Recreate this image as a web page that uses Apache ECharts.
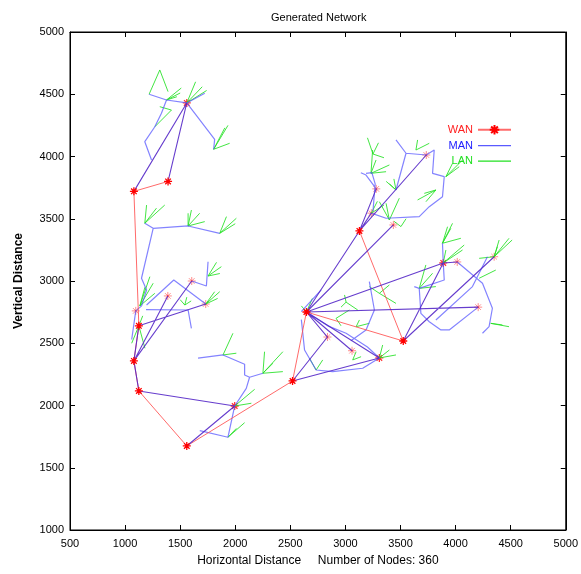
<!DOCTYPE html>
<html>
<head>
<meta charset="utf-8">
<script src="https://cdn.jsdelivr.net/npm/echarts@6/dist/echarts.min.js"></script>
<style>
html, body { margin: 0; padding: 0; background: #fff; }
#main { width: 581px; height: 574px; }
</style>
</head>
<body>
<div id="main"></div>
<script>
// axis ranges
var xRange = [500, 5000];
var yRange = [1000, 5000];
var tickStep = 500;
var nodeCount = 360;

// WAN nodes: id, x, y
var wanNodes = [
    ['A', 1560, 4430], ['B', 1080, 3720], ['C', 1390, 3800], ['D', 1097, 2760],
    ['E', 1125, 2640], ['F', 1388, 2880], ['G', 1605, 3000], ['H', 1732, 2815],
    ['I', 1080, 2358], ['J', 1125, 2117], ['K', 1995, 1996], ['L', 1560, 1675],
    ['M', 2520, 2197], ['N', 2646, 2751], ['O', 2837, 2550], ['P', 3060, 2440],
    ['Q', 3308, 2382], ['R', 3525, 2518], ['S', 3127, 3402], ['T', 3235, 3545],
    ['U', 3280, 3740], ['V', 3435, 3450], ['W', 3734, 4012], ['X', 3888, 3145],
    ['Y', 4015, 3153], ['Z', 4205, 2790], ['AA', 4350, 3195]
];
// backbone routers (bold stars), the others are MAN gateways
var majorIds = ['A', 'B', 'C', 'E', 'I', 'J', 'K', 'L', 'M', 'N', 'Q', 'R', 'S', 'X'];
// red WAN chain
var wanPath = ['C', 'B', 'E', 'I', 'J', 'L', 'M', 'N', 'R', 'S'];
// WAN links that MAN also uses (purple)
var trunkEdges = [
    ['A', 'B'], ['A', 'C'], ['I', 'F'], ['I', 'G'], ['E', 'H'], ['E', 'I'], ['J', 'I'],
    ['J', 'K'], ['K', 'L'], ['M', 'O'], ['M', 'Q'], ['N', 'O'], ['N', 'P'], ['N', 'Q'],
    ['N', 'S'], ['N', 'V'], ['S', 'T'], ['S', 'U'], ['S', 'W'], ['N', 'X'], ['X', 'Y'],
    ['N', 'Z'], ['R', 'X'], ['R', 'AA']
];

// MAN polylines
var manPaths = [
    [[1218, 4500], [1376, 4454], [1560, 4430]],
    [[1376, 4454], [1330, 4347], [1270, 4239], [1179, 4119], [1240, 3972]],
    [[1560, 4430], [1813, 4138], [1804, 4058]],
    [[1560, 4430], [1723, 4508]],
    [[1179, 3464], [1255, 3423], [1572, 3442], [1859, 3383]],
    [[1255, 3423], [1149, 3022], [1195, 2928], [1150, 2800], [1097, 2760]],
    [[1097, 2760], [1060, 2530]],
    [[1195, 2807], [1442, 3008], [1732, 2815]],
    [[1605, 3000], [1738, 2960], [1753, 3155]],
    [[1190, 2770], [1572, 2767], [1602, 2620]],
    [[1662, 2380], [1889, 2406], [2085, 2331], [2085, 2245], [2130, 2227], [2251, 2259]],
    [[2130, 2227], [2100, 2138], [1995, 1996], [1934, 1745], [1678, 1798]],
    [[2599, 2754], [2780, 2928]],
    [[2646, 2751], [2840, 2640], [3006, 2580], [3200, 2470], [3308, 2382]],
    [[2600, 2690], [2629, 2446], [2734, 2285], [2884, 2272], [3157, 2299], [3308, 2382]],
    [[3217, 2995], [3263, 2767], [3187, 2606], [3050, 2520]],
    [[3459, 4133], [3550, 4026], [3734, 4012], [3806, 4052], [3791, 3865], [3897, 3838],
     [3881, 3677], [3761, 3597], [3670, 3517], [3369, 3504], [3235, 3545]],
    [[3550, 4026], [3459, 3731]],
    [[3140, 3870], [3187, 3851], [3280, 3740]],
    [[3881, 3303], [3888, 3145], [3897, 3008], [3670, 2941], [3625, 2955]],
    [[3670, 2941], [3685, 2740], [3761, 2673], [3867, 2607], [3942, 2607], [4205, 2790]],
    [[4015, 3153], [4244, 2982], [4334, 2781], [4304, 2633], [4244, 2580]],
    [[3821, 2687], [4153, 2955], [4289, 3195]],
    [[3187, 3865], [3240, 3870], [3270, 3780], [3250, 3560]]
];

// LAN fans: first point is the hub, the rest are hosts
var lanFans = [
    [[1315, 4695], [1218, 4500], [1390, 4521]],
    [[1376, 4454], [1510, 4550], [1470, 4480], [1500, 4510]],
    [[1560, 4430], [1700, 4560], [1740, 4530], [1640, 4600]],
    [[1421, 4373], [1270, 4239], [1315, 4400]],
    [[1804, 4058], [1934, 4250], [1949, 4106], [1905, 4230]],
    [[1179, 3464], [1360, 3610], [1195, 3610], [1285, 3585]],
    [[1572, 3442], [1602, 3570], [1723, 3477], [1677, 3544], [1572, 3544]],
    [[1859, 3383], [2010, 3504], [1920, 3517], [2000, 3460]],
    [[1753, 3040], [1874, 3115], [1830, 3150], [1860, 3060]],
    [[1732, 2815], [1859, 2914], [1813, 2914], [1840, 2860]],
    [[1134, 2800], [1255, 2982], [1225, 3035], [1270, 2901], [1180, 2950]],
    [[1125, 2640], [1060, 2500], [1180, 2460], [1160, 2720]],
    [[1542, 2807], [1560, 2870], [1600, 2840], [1500, 2850]],
    [[1889, 2406], [1979, 2580], [2010, 2420]],
    [[2251, 2259], [2432, 2432], [2266, 2432], [2432, 2272], [2342, 2339]],
    [[1995, 1996], [2176, 2130], [2146, 2018]],
    [[1934, 1745], [2085, 1862], [2010, 1816]],
    [[3006, 2830], [2992, 2888], [3112, 2767], [2960, 2790]],
    [[3308, 2901], [3459, 2820], [3399, 2968], [3217, 2955]],
    [[2734, 2285], [2674, 2379], [2794, 2366]],
    [[3066, 2366], [3142, 2392], [3097, 2432]],
    [[3308, 2382], [3399, 2446], [3459, 2406], [3338, 2486]],
    [[3097, 2633], [3217, 2660], [3127, 2687]],
    [[2915, 2700], [3036, 2767], [2960, 2640]],
    [[3232, 3865], [3399, 3932], [3369, 3878], [3247, 4052], [3278, 3972]],
    [[3459, 3731], [3370, 3800], [3400, 3780], [3440, 3820]],
    [[3399, 3490], [3369, 3624], [3308, 3637], [3489, 3665]],
    [[3821, 3731], [3716, 3704], [3731, 3637], [3655, 3651]],
    [[3912, 3838], [4063, 3972], [4033, 3918], [3972, 3945]],
    [[3235, 3545], [3350, 3610], [3290, 3640]],
    [[3640, 4052], [3655, 4133], [3761, 4106]],
    [[3504, 3437], [3550, 3500], [3440, 3480]],
    [[3881, 3303], [3972, 3463], [3957, 3423], [4048, 3343], [3927, 3436]],
    [[3888, 3145], [4078, 3289], [4063, 3249], [3912, 3249]],
    [[3670, 2941], [3730, 3129], [3791, 3062], [3821, 2955]],
    [[4350, 3195], [4395, 3329], [4485, 3343], [4380, 3276], [4214, 3182], [4513, 3329]],
    [[4214, 3022], [4365, 3088]],
    [[4319, 2660], [4485, 2633], [4425, 2647]],
    [[2646, 2751], [2700, 2860], [2600, 2800]],
    [[3250, 4020], [3200, 4150], [3300, 4110], [3350, 3990]]
];

var nodeById = {};
wanNodes.forEach(function (n) { nodeById[n[0]] = [n[1], n[2]]; });

// polylines joined into one series, broken by empty points
function joinPaths(paths) {
    var out = [];
    paths.forEach(function (p) {
        p.forEach(function (pt) { out.push(pt); });
        out.push([null, null]);
    });
    return out;
}
function fanPaths(fans) {
    var out = [];
    fans.forEach(function (f) {
        for (var i = 1; i < f.length; i++) out.push([f[0], f[i]]);
    });
    return out;
}

var starPath = 'path://M5,0L5,10M0,5L10,5M1.5,1.5L8.5,8.5M1.5,8.5L8.5,1.5';
// thin bar used as a plain line legend icon
var barIcon = 'path://M0,0L33,0L33,1.2L0,1.2Z';

var wanData = wanPath.map(function (id) { return nodeById[id]; });
var trunkData = joinPaths(trunkEdges.map(function (e) { return [nodeById[e[0]], nodeById[e[1]]]; }));
var extraMajor = majorIds.filter(function (id) { return wanPath.indexOf(id) < 0; })
    .map(function (id) { return nodeById[id]; });
var gateways = wanNodes.filter(function (n) { return majorIds.indexOf(n[0]) < 0; })
    .map(function (n) { return [n[1], n[2]]; });

var font = 'Liberation Sans, Arial, sans-serif';
function plain(v) { return String(v); }

var chart = echarts.init(document.getElementById('main'));
var option = {
    animation: false,
    title: {
        text: 'Generated Network',
        left: 266,
        top: 7,
        textStyle: { fontSize: 11, fontWeight: 'normal', color: '#000', fontFamily: font }
    },
    legend: {
        orient: 'vertical',
        right: 64,
        top: 119,
        align: 'right',
        itemWidth: 33,
        itemHeight: 12,
        itemGap: 4.5,
        textStyle: { fontSize: 11, fontFamily: font },
        data: [
            { name: 'WAN', textStyle: { color: '#ff2020' } },
            { name: 'MAN', icon: barIcon, textStyle: { color: '#2020ff' } },
            { name: 'LAN', icon: barIcon, textStyle: { color: '#20e020' } }
        ]
    },
    grid: {
        left: 70, right: 14, top: 32, bottom: 44,
        show: true, borderColor: '#000', borderWidth: 1
    },
    xAxis: [{
        type: 'value', min: xRange[0], max: xRange[1], interval: tickStep,
        name: 'Horizontal Distance     Number of Nodes: ' + nodeCount,
        nameLocation: 'middle', nameGap: 25,
        nameTextStyle: { fontSize: 12, color: '#000', fontFamily: font },
        axisLine: { lineStyle: { color: '#000' } },
        axisTick: { inside: true, length: 5, lineStyle: { color: '#000' } },
        axisLabel: { fontSize: 11, color: '#000', margin: 8, fontFamily: font, formatter: plain },
        splitLine: { show: false }
    }, {
        type: 'value', position: 'top', min: xRange[0], max: xRange[1], interval: tickStep,
        axisLine: { lineStyle: { color: '#000' } },
        axisTick: { inside: true, length: 5, lineStyle: { color: '#000' } },
        axisLabel: { show: false },
        splitLine: { show: false }
    }],
    yAxis: [{
        type: 'value', min: yRange[0], max: yRange[1], interval: tickStep,
        name: 'Vertical Distance',
        nameLocation: 'middle', nameGap: 45,
        nameTextStyle: { fontSize: 12, fontWeight: 'bold', color: '#000', fontFamily: font },
        axisLine: { lineStyle: { color: '#000' } },
        axisTick: { inside: true, length: 5, lineStyle: { color: '#000' } },
        axisLabel: { fontSize: 11, color: '#000', margin: 6, fontFamily: font, formatter: plain },
        splitLine: { show: false }
    }, {
        type: 'value', position: 'right', min: yRange[0], max: yRange[1], interval: tickStep,
        axisLine: { lineStyle: { color: '#000' } },
        axisTick: { inside: true, length: 5, lineStyle: { color: '#000' } },
        axisLabel: { show: false },
        splitLine: { show: false }
    }],
    series: [
        {
            name: 'LAN', type: 'line', symbol: 'none',
            data: joinPaths(fanPaths(lanFans)),
            lineStyle: { color: '#22e022', width: 1, opacity: 0.85 },
            itemStyle: { color: '#22e022' }
        },
        {
            name: 'MAN', type: 'line', symbol: 'none',
            data: joinPaths(manPaths),
            lineStyle: { color: '#5a5aff', width: 1.2, opacity: 0.75 },
            itemStyle: { color: '#5a5aff' }
        },
        {
            name: 'WAN', type: 'line',
            symbol: starPath, symbolSize: 8, showSymbol: true,
            data: wanData,
            lineStyle: { color: '#ff5050', width: 1, opacity: 0.85 },
            itemStyle: { color: '#ff0000', borderColor: '#ff0000', borderWidth: 1.3 }
        },
        {
            name: 'trunk', type: 'line', symbol: 'none',
            data: trunkData,
            lineStyle: { color: '#5528c8', width: 1.1, opacity: 0.9 }
        },
        {
            name: 'router', type: 'scatter', symbol: starPath, symbolSize: 8,
            data: extraMajor,
            itemStyle: { color: '#ff0000', borderColor: '#ff0000', borderWidth: 1.3 }
        },
        {
            name: 'gateway', type: 'scatter', symbol: starPath, symbolSize: 8,
            data: gateways,
            itemStyle: { color: '#ff0000', borderColor: '#ff0000', borderWidth: 1, opacity: 0.45 }
        }
    ]
};
chart.setOption(option);
</script>
</body>
</html>
